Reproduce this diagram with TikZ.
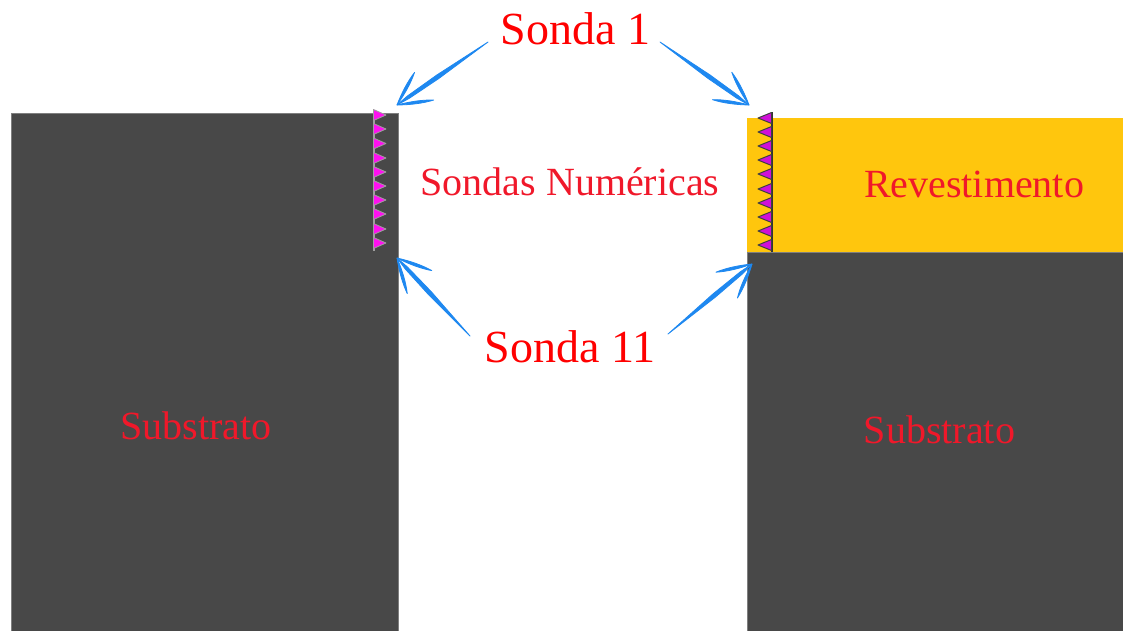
\documentclass[tikz,border=0pt]{standalone}
\usepackage{fontspec}
\setmainfont{Liberation Serif}
\usetikzlibrary{calc}
\definecolor{sub}{HTML}{484848}
\definecolor{rev}{HTML}{FFC60D}
\definecolor{lab}{HTML}{F0182A}
\definecolor{blu}{HTML}{1E88F0}
\definecolor{mag}{HTML}{FF10F0}
\definecolor{mag2}{HTML}{D010D8}
\tikzset{
  big/.style={text=red,font=\fontsize{46pt}{48pt}\selectfont,inner sep=0pt},
  mid/.style={text=lab,font=\fontsize{40pt}{42pt}\selectfont,inner sep=0pt},
  blk/.style={fill=sub,draw=sub!70!white,line width=0.8pt},
  shaft/.style={fill=blu,draw=blu,line width=0.8pt,line join=round},
}
\newcommand{\harrow}[2]{%
  \coordinate (hm) at ($(#1)!0.55!(#2)$);
  \coordinate (hn) at ($(#2)!14pt!(#1)$);
  \fill[shaft] (#1)
    -- ($(hm)!2pt!90:(#2)$)
    -- ($(hn)!1.5pt!90:(#2)$)
    -- (#2)
    -- ($(hn)!1.5pt!-90:(#2)$)
    -- ($(hm)!2pt!-90:(#2)$) -- cycle;
  \fill[shaft] (#2) .. controls ($(#2)!14pt!34:(#1)$) and ($(#2)!26pt!31:(#1)$) .. ($(#2)!37pt!27:(#1)$)
     .. controls ($(#2)!26pt!23:(#1)$) and ($(#2)!14pt!20:(#1)$) .. (#2);
  \fill[shaft] (#2) .. controls ($(#2)!14pt!-34:(#1)$) and ($(#2)!26pt!-31:(#1)$) .. ($(#2)!37pt!-27:(#1)$)
     .. controls ($(#2)!26pt!-23:(#1)$) and ($(#2)!14pt!-20:(#1)$) .. (#2);
}
\begin{document}
\begin{tikzpicture}[x=1pt,y=-1pt]
\useasboundingbox (0,0) rectangle (1123,630);
% blocks
\path[blk] (11,113.5) rectangle (398,631);
\path[blk] (747,252) rectangle (1124,631);
\fill[rev] (747,118) rectangle (1123,252);
% left probes
\fill[gray!75] (373,111) rectangle (375,251);
\foreach \y in {115,129,143.5,158,172,186,200,214,229,243}{
  \filldraw[fill=mag,draw=gray!75,line width=0.8pt,line join=round]
    (373.5,\y-5.5) -- (386,\y) -- (373.5,\y+5.5) -- cycle;
}
% right probes
\fill[black!80] (771,112) rectangle (773,252);
\foreach \y in {118,132,146,160,174,189,203,217,231,245}{
  \filldraw[fill=mag2,draw=black!75,line width=1pt,line join=round]
    (771.5,\y-5.5) -- (758,\y) -- (771.5,\y+5.5) -- cycle;
}
% labels
\node[big] (s1) at (575.5,29) {Sonda 1};
\node[big] (s11) at (570,347) {Sonda 11};
\node[mid] (num) at (570,182) {Sondas Numéricas};
\node[mid] (revl) at (974,184) {Revestimento};
\node[mid] (subl) at (196,426) {Substrato};
\node[mid] (subr) at (939.5,430) {Substrato};
% arrows
\coordinate (a1) at (488,42);  \coordinate (t1) at (397,105);
\coordinate (a2) at (660,42);  \coordinate (t2) at (749,105);
\coordinate (a3) at (470,336); \coordinate (t3) at (397,258);
\coordinate (a4) at (668,334); \coordinate (t4) at (752,264);
\harrow{a1}{t1}
\harrow{a2}{t2}
\harrow{a3}{t3}
\harrow{a4}{t4}
\end{tikzpicture}
\end{document}
